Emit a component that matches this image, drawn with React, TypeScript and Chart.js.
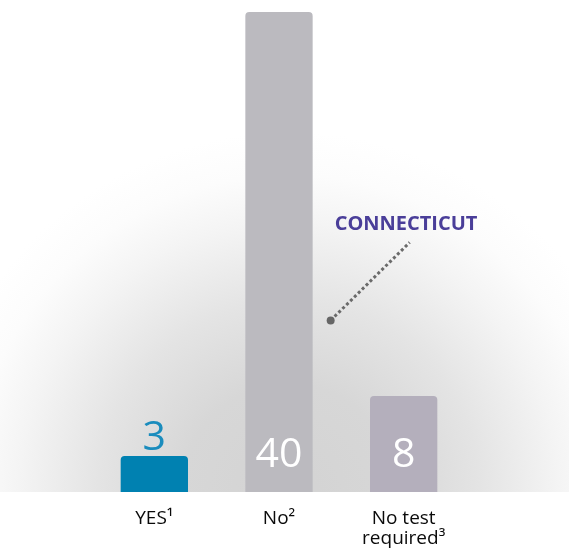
import React, { useEffect, useRef } from "react";
import { Chart, registerables } from "chart.js";

Chart.register(...registerables);

const categories: (string | string[])[] = ["YES¹", "No²", ["No test", "required³"]];
const values = [3, 40, 8];
const barColors = ["#0081b1", "#bbbabf", "#b4afbc"];
const valueLabelColors = ["#1a8cbd", "#ffffff", "#ffffff"];
const annotationText = "CONNECTICUT";

const bgPlugin = {
  id: "bgGlow",
  beforeDraw(chart: any) {
    const { ctx, chartArea, width } = chart;
    const bottom = chartArea.bottom;
    ctx.save();
    ctx.fillStyle = "#ffffff";
    ctx.fillRect(0, 0, width, chart.height);
    const cx = (chartArea.left + chartArea.right) / 2 + 10;
    const cy = bottom;
    const r = 360;
    const g = ctx.createRadialGradient(cx, cy, 0, cx, cy, r);
    g.addColorStop(0, "#d3d3d3");
    g.addColorStop(0.3, "#d7d7d7");
    g.addColorStop(0.53, "#e4e4e4");
    g.addColorStop(0.75, "#f4f4f4");
    g.addColorStop(0.88, "#fcfcfc");
    g.addColorStop(1, "#ffffff");
    ctx.fillStyle = g;
    ctx.fillRect(0, 0, width, bottom);
    ctx.restore();
  },
};

const labelPlugin = {
  id: "valueLabels",
  afterDatasetsDraw(chart: any) {
    const { ctx, chartArea } = chart;
    const meta = chart.getDatasetMeta(0);
    ctx.save();
    ctx.font = "41px 'Open Sans', sans-serif";
    ctx.textAlign = "center";
    ctx.textBaseline = "alphabetic";
    meta.data.forEach((bar: any, i: number) => {
      ctx.fillStyle = valueLabelColors[i];
      const barH = chartArea.bottom - bar.y;
      const y = barH > 60 ? chartArea.bottom - 25 : bar.y - 6;
      ctx.fillText(String(values[i]), bar.x, y);
    });

    // annotation
    const ys = chart.scales.y;
    const bar2 = meta.data[1];
    const dotX = bar2.x + bar2.width / 2 + 18;
    const dotY = ys.getPixelForValue(14.3);
    const endX = dotX + 79;
    const endY = ys.getPixelForValue(20.8);
    ctx.strokeStyle = "#6a6a6a";
    ctx.lineWidth = 3;
    ctx.setLineDash([3, 2.5]);
    ctx.beginPath();
    ctx.moveTo(dotX, dotY);
    ctx.lineTo(endX, endY);
    ctx.stroke();
    ctx.setLineDash([]);
    ctx.fillStyle = "#666666";
    ctx.beginPath();
    ctx.arc(dotX, dotY, 4, 0, Math.PI * 2);
    ctx.fill();

    ctx.font = "bold 20px 'Open Sans', sans-serif";
    ctx.fillStyle = "#4a3e99";
    ctx.textAlign = "left";
    ctx.textBaseline = "middle";
    ctx.fillText(annotationText, dotX + 4, ys.getPixelForValue(22.3));
    ctx.restore();
  },
};

export default function App() {
  const ref = useRef<HTMLCanvasElement>(null);
  useEffect(() => {
    document.body.style.margin = "0";
    const chart = new Chart(ref.current!, {
      type: "bar",
      data: {
        labels: categories,
        datasets: [
          {
            data: values,
            backgroundColor: barColors,
            borderRadius: { topLeft: 4, topRight: 4, bottomLeft: 0, bottomRight: 0 },
            borderSkipped: "bottom",
            categoryPercentage: 1,
            barPercentage: 0.54,
          },
        ],
      },
      options: {
        animation: false,
        responsive: true,
        maintainAspectRatio: false,
        layout: { padding: { top: 12, left: 92, right: 103, bottom: 0 } },
        plugins: { legend: { display: false }, tooltip: { enabled: false } },
        scales: {
          x: {
            grid: { display: false },
            border: { display: false },
            afterFit: (scale: any) => {
              scale.height = 56;
            },
            ticks: {
              color: "#0a0a0a",
              padding: 9,
              font: { family: "'Open Sans', sans-serif", size: 19, lineHeight: 1.05 },
              maxRotation: 0,
              autoSkip: false,
            },
          },
          y: {
            display: false,
            min: 0,
            max: 40,
          },
        },
      },
      plugins: [bgPlugin, labelPlugin],
    });
    return () => chart.destroy();
  }, []);
  return (
    <div style={{ width: 569, height: 548, position: "relative" }}>
      <canvas ref={ref} />
    </div>
  );
}
